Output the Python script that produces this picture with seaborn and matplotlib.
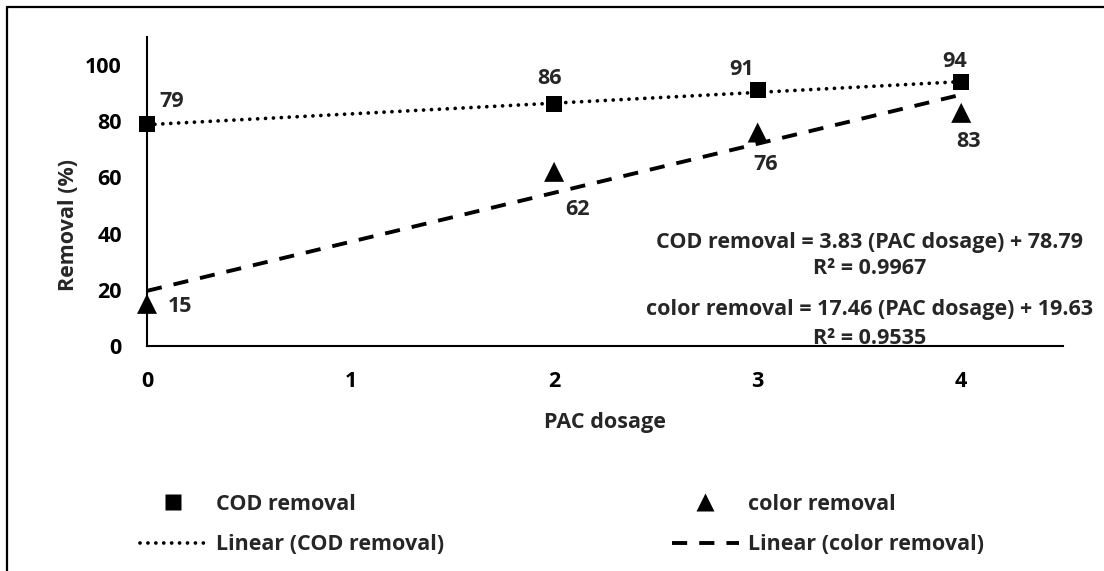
import matplotlib
matplotlib.use("Agg")
import matplotlib.pyplot as plt
from matplotlib.lines import Line2D
import numpy as np
import pandas as pd
import seaborn as sns

# ---- data ----
pac_dosage = [0, 2, 3, 4]
cod_removal = [79, 86, 91, 94]
color_removal = [15, 62, 76, 83]
series_names = ["COD removal", "color removal"]
trend_slopes = [3.83, 17.46]
trend_intercepts = [78.79, 19.63]
trend_r2 = [0.9967, 0.9535]
x_ticks = [0, 1, 2, 3, 4]
y_ticks = [0, 20, 40, 60, 80, 100]

sns.set_theme(style="white")
plt.rcParams["font.family"] = ["Open Sans", "DejaVu Sans"]
plt.rcParams["font.weight"] = "bold"

W, H = 1104, 571
fig = plt.figure(figsize=(W / 100, H / 100), dpi=100)
fig.patch.set_facecolor("white")

def fx(px):
    return px / W

def fy(py):
    return 1 - py / H

ax = fig.add_axes([fx(147), fy(346), fx(1063) - fx(147), fy(37) - fy(346)])
ax.set_facecolor("white")

df = pd.DataFrame({"dosage": pac_dosage, "cod": cod_removal, "color": color_removal})

# trendlines
xr = np.array([min(pac_dosage), max(pac_dosage)], dtype=float)
trend_df = pd.DataFrame({
    "x": xr,
    "cod": trend_slopes[0] * xr + trend_intercepts[0],
    "color": trend_slopes[1] * xr + trend_intercepts[1],
})
dotted = (0, (0.01, 2.1))
dashed = (0, (3.9, 3.1))
sns.lineplot(data=trend_df, x="x", y="cod", ax=ax, color="black", lw=2.7,
             linestyle=dotted, dash_capstyle="round", zorder=2)
sns.lineplot(data=trend_df, x="x", y="color", ax=ax, color="black", lw=2.8,
             linestyle=dashed, dash_capstyle="butt", zorder=2)

# markers
sns.scatterplot(data=df, x="dosage", y="cod", marker="s", s=11.5 ** 2,
                color="black", edgecolor="none", ax=ax, zorder=3, legend=False,
                clip_on=False)
sns.scatterplot(data=df, x="dosage", y="color", marker="^", s=14.4 ** 2,
                color="black", edgecolor="none", ax=ax, zorder=3, legend=False,
                clip_on=False)

FS = 15.5
# data labels (offsets in pixels, baseline)
cod_offsets = [(25, 17), (-5, 20), (-16, 15), (-7, 15)]
color_offsets = [(33, -8), (23, -43), (8, -37), (7, -34)]
for x, y, off in zip(pac_dosage, cod_removal, cod_offsets):
    ax.annotate(f"{y}", (x, y), xytext=off, textcoords="offset pixels",
                ha="center", va="baseline", fontsize=FS, fontweight="bold",
                annotation_clip=False)
for x, y, off in zip(pac_dosage, color_removal, color_offsets):
    ax.annotate(f"{y}", (x, y), xytext=off, textcoords="offset pixels",
                ha="center", va="baseline", fontsize=FS, fontweight="bold",
                annotation_clip=False)

ax.set_xlim(0, 4.5)
ax.set_ylim(0, 110)
ax.set_xticks(x_ticks)
ax.set_yticks(y_ticks)
ax.set_xticklabels([str(t) for t in x_ticks], fontsize=FS, fontweight="bold")
ax.set_yticklabels([str(t) for t in y_ticks], fontsize=FS, fontweight="bold")
ax.tick_params(axis="both", direction="in", length=6, width=1.4, color="black",
               pad=18, labelcolor="black")
ax.tick_params(axis="x", pad=18)
for s in ["top", "right"]:
    ax.spines[s].set_visible(False)
for s in ["left", "bottom"]:
    ax.spines[s].set_color("black")
    ax.spines[s].set_linewidth(1.5)
ax.set_xlabel("")
ax.set_ylabel("")
ax.grid(False)

# axis titles
fig.text(fx(605), fy(428), "PAC dosage", ha="center", va="baseline",
         fontsize=FS, fontweight="bold")
fig.text(fx(68), fy(225), "Removal (%)", ha="center", va="center",
         rotation=90, fontsize=FS, fontweight="bold")

# equations
eq_lines = [
    (f"{series_names[0]} = {trend_slopes[0]:.2f} (PAC dosage) + {trend_intercepts[0]:.2f}", 248),
    (f"R\u00b2 = {trend_r2[0]:.4f}", 274),
    (f"{series_names[1]} = {trend_slopes[1]:.2f} (PAC dosage) + {trend_intercepts[1]:.2f}", 315),
    (f"R\u00b2 = {trend_r2[1]:.4f}", 344),
]
for txt, by in eq_lines:
    fig.text(fx(870), fy(by), txt, ha="center", va="baseline",
             fontsize=FS, fontweight="bold")

# legends
h_cod = Line2D([], [], marker="s", color="black", ls="none", ms=12, mec="none")
h_cod_l = Line2D([], [], color="black", lw=2.7, ls=dotted, dash_capstyle="round")
h_col = Line2D([], [], marker="^", color="black", ls="none", ms=13.5, mec="none")
h_col_l = Line2D([], [], color="black", lw=2.8, ls=dashed)

common = dict(frameon=False, handlelength=3.1, handletextpad=0.45,
              labelspacing=0.9, borderpad=0, borderaxespad=0, loc="upper left",
              prop={"weight": "bold", "size": FS})
fig.legend([h_cod, h_cod_l], [series_names[0], f"Linear ({series_names[0]})"],
           bbox_to_anchor=(fx(140), fy(494)), **common)
fig.legend([h_col, h_col_l], [series_names[1], f"Linear ({series_names[1]})"],
           bbox_to_anchor=(fx(672), fy(494)), **common)

# outer border (left and top visible)
fig.add_artist(Line2D([fx(7), fx(7)], [fy(7), 0], transform=fig.transFigure,
                      color="black", lw=1.6))
fig.add_artist(Line2D([fx(7), 1], [fy(7), fy(7)], transform=fig.transFigure,
                      color="black", lw=1.6))

fig.savefig("out.png", dpi=100, facecolor="white")
